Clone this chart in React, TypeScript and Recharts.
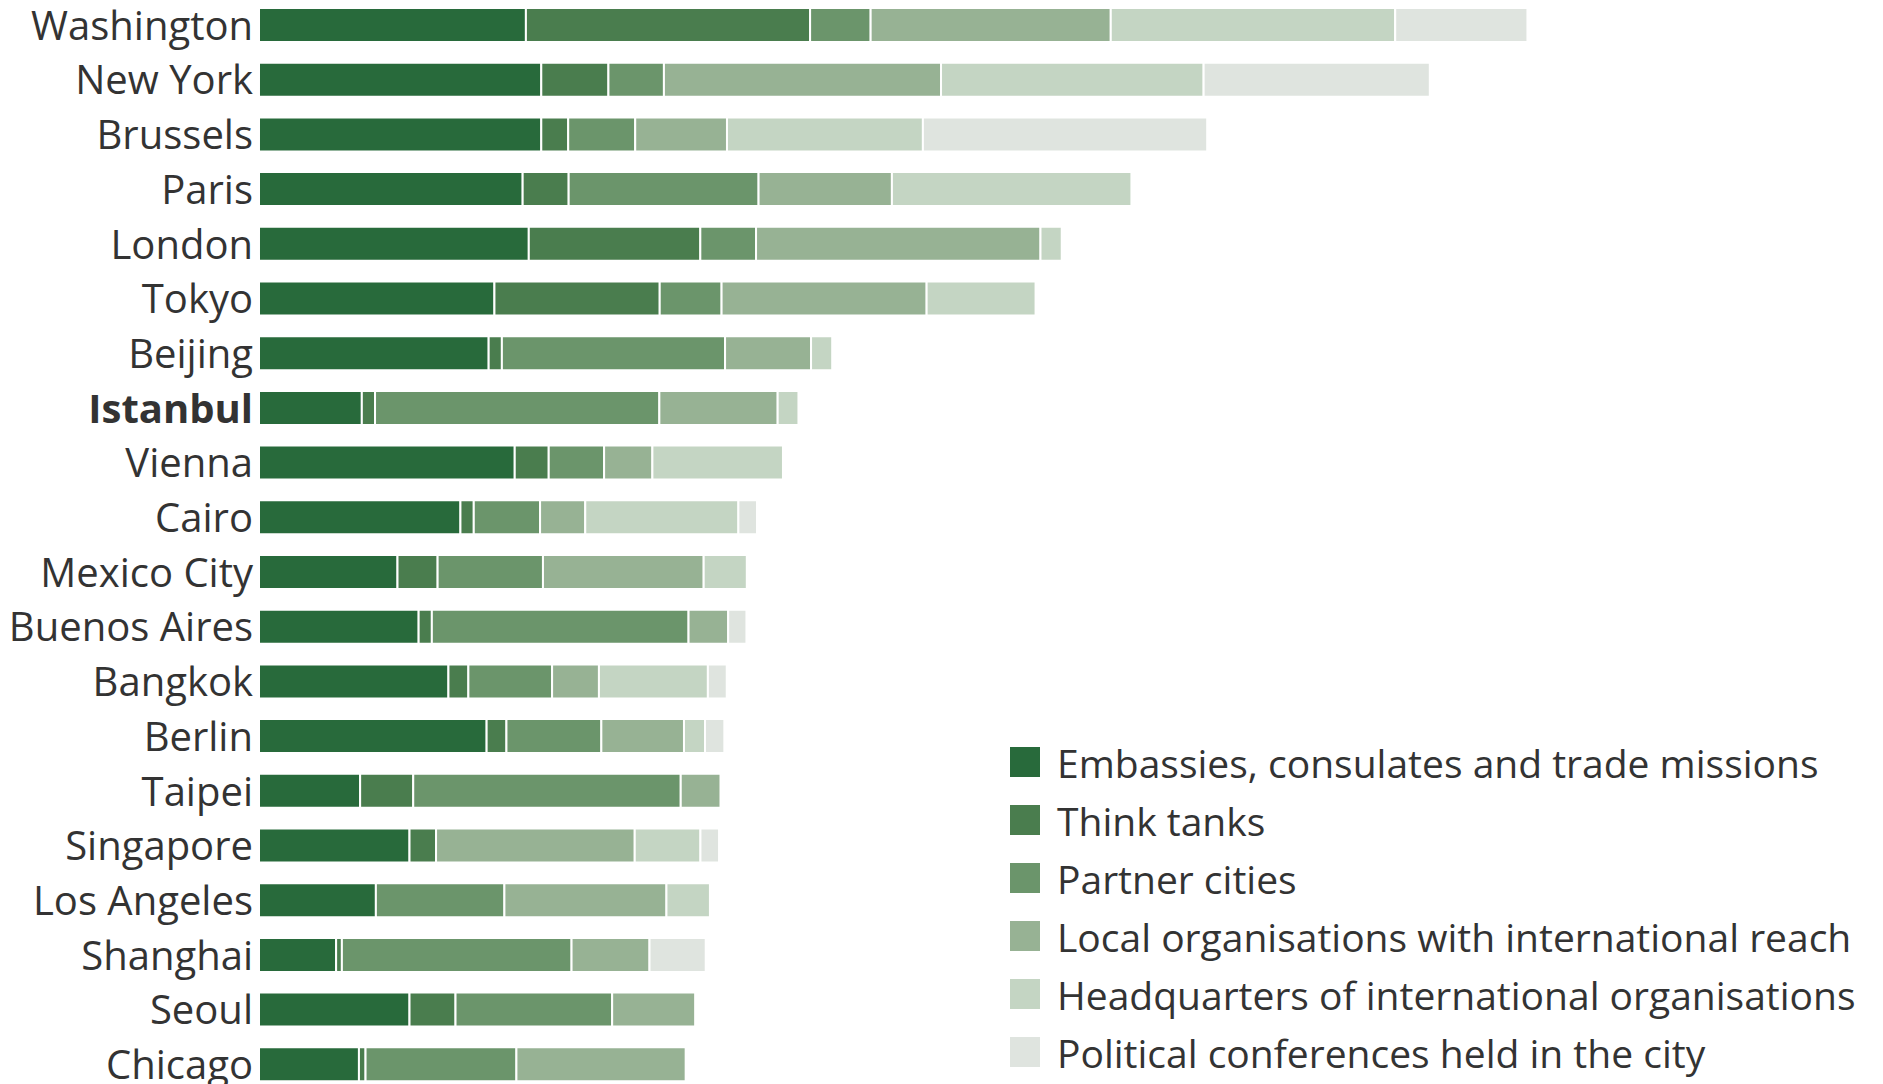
import { BarChart, Bar, XAxis, YAxis, Legend } from 'recharts';

const cities = [
  'Washington', 'New York', 'Brussels', 'Paris', 'London', 'Tokyo', 'Beijing', 'Istanbul', 'Vienna', 'Cairo',
  'Mexico City', 'Buenos Aires', 'Bangkok', 'Berlin', 'Taipei', 'Singapore', 'Los Angeles', 'Shanghai', 'Seoul', 'Chicago',
];

const embassies = [222.2, 235.0, 235.0, 219.5, 224.6, 196.0, 191.2, 85.6, 212.9, 167.7, 115.3, 132.9, 157.7, 189.5, 84.2, 125.3, 97.3, 64.2, 125.3, 83.2];
const thinkTanks = [236.6, 55.9, 22.4, 38.3, 142.8, 137.6, 11.0, 11.0, 28.3, 11.1, 33.4, 11.0, 16.6, 16.5, 44.2, 22.1, 0, 4.8, 38.3, 5.5];
const partnerCities = [50.4, 46.2, 55.8, 158.1, 46.4, 51.5, 185.8, 236.7, 46.1, 55.2, 87.7, 213.7, 69.7, 79.0, 222.7, 0, 107.0, 191.2, 130.4, 125.6];
const localOrgs = [199.9, 230.7, 76.4, 111.0, 236.8, 170.7, 71.6, 98.5, 40.2, 37.6, 133.8, 33.0, 39.0, 68.8, 33.1, 165.4, 134.9, 64.9, 69.1, 140.9];
const headquarters = [236.8, 218.6, 163.1, 199.4, 17.7, 90.7, 17.6, 17.3, 108.7, 127.5, 35.9, 0, 90.7, 17.5, 0, 54.7, 36.2, 0, 0, 0];
const conferences = [110.1, 188.3, 236.7, 0, 0, 0, 0, 0, 0, 15.5, 0, 15.2, 15.7, 16.1, 0, 15.5, 0, 46.8, 0, 0];

const series = [
  { key: 'embassies', name: 'Embassies, consulates and trade missions', color: '#286a3b' },
  { key: 'thinkTanks', name: 'Think tanks', color: '#4a7d4e' },
  { key: 'partnerCities', name: 'Partner cities', color: '#6b956b' },
  { key: 'localOrgs', name: 'Local organisations with international reach', color: '#97b294' },
  { key: 'headquarters', name: 'Headquarters of international organisations', color: '#c4d5c3' },
  { key: 'conferences', name: 'Political conferences held in the city', color: '#dfe4df' },
];

const data = cities.map((city, i) => ({
  city,
  embassies: embassies[i],
  thinkTanks: thinkTanks[i],
  partnerCities: partnerCities[i],
  localOrgs: localOrgs[i],
  headquarters: headquarters[i],
  conferences: conferences[i],
}));

const FONT = '"Open Sans", sans-serif';

const CityTick = (props: any) => {
  const { y, payload } = props;
  return (
    <text
      x={253}
      y={y}
      dy="0.36em"
      textAnchor="end"
      fontFamily={FONT}
      fontSize={40}
      fontWeight={payload.value === 'Istanbul' ? 700 : 400}
      fill="#333333"
    >
      {payload.value}
    </text>
  );
};

// legend keeps the series order, not alphabetical
const LegendList = () => (
  <div style={{ fontFamily: FONT, fontSize: 39, color: '#333333' }}>
    {series.map((s) => (
      <div key={s.key} style={{ display: 'flex', alignItems: 'center', height: 58 }}>
        <div style={{ width: 30, height: 30, background: s.color, marginRight: 17, flexShrink: 0 }} />
        <span style={{ whiteSpace: 'nowrap' }}>{s.name}</span>
      </div>
    ))}
  </div>
);

export default function App() {
  return (
    <div style={{ position: 'absolute', left: 0, top: 0, width: 1883, height: 1084, overflow: 'hidden', background: '#fff' }}>
      <div style={{ position: 'absolute', left: 0, top: -2 }}>
        <BarChart
          width={1883}
          height={1094}
          data={data}
          layout="vertical"
          margin={{ top: 0, right: 0, bottom: 0, left: 0 }}
          barSize={34}
        >
          <XAxis type="number" domain={[0, 1352]} hide allowDataOverflow />
          <YAxis type="category" dataKey="city" width={259} axisLine={false} tickLine={false} tick={<CityTick />} interval={0} />
          <Legend
            layout="vertical"
            align="center"
            verticalAlign="middle"
            content={<LegendList />}
            wrapperStyle={{ left: 1010, top: 735, width: 873 }}
          />
          {series.map((s) => (
            <Bar
              key={s.key}
              dataKey={s.key}
              name={s.name}
              stackId="a"
              fill={s.color}
              stroke="#ffffff"
              strokeWidth={2}
              isAnimationActive={false}
            />
          ))}
        </BarChart>
      </div>
    </div>
  );
}
